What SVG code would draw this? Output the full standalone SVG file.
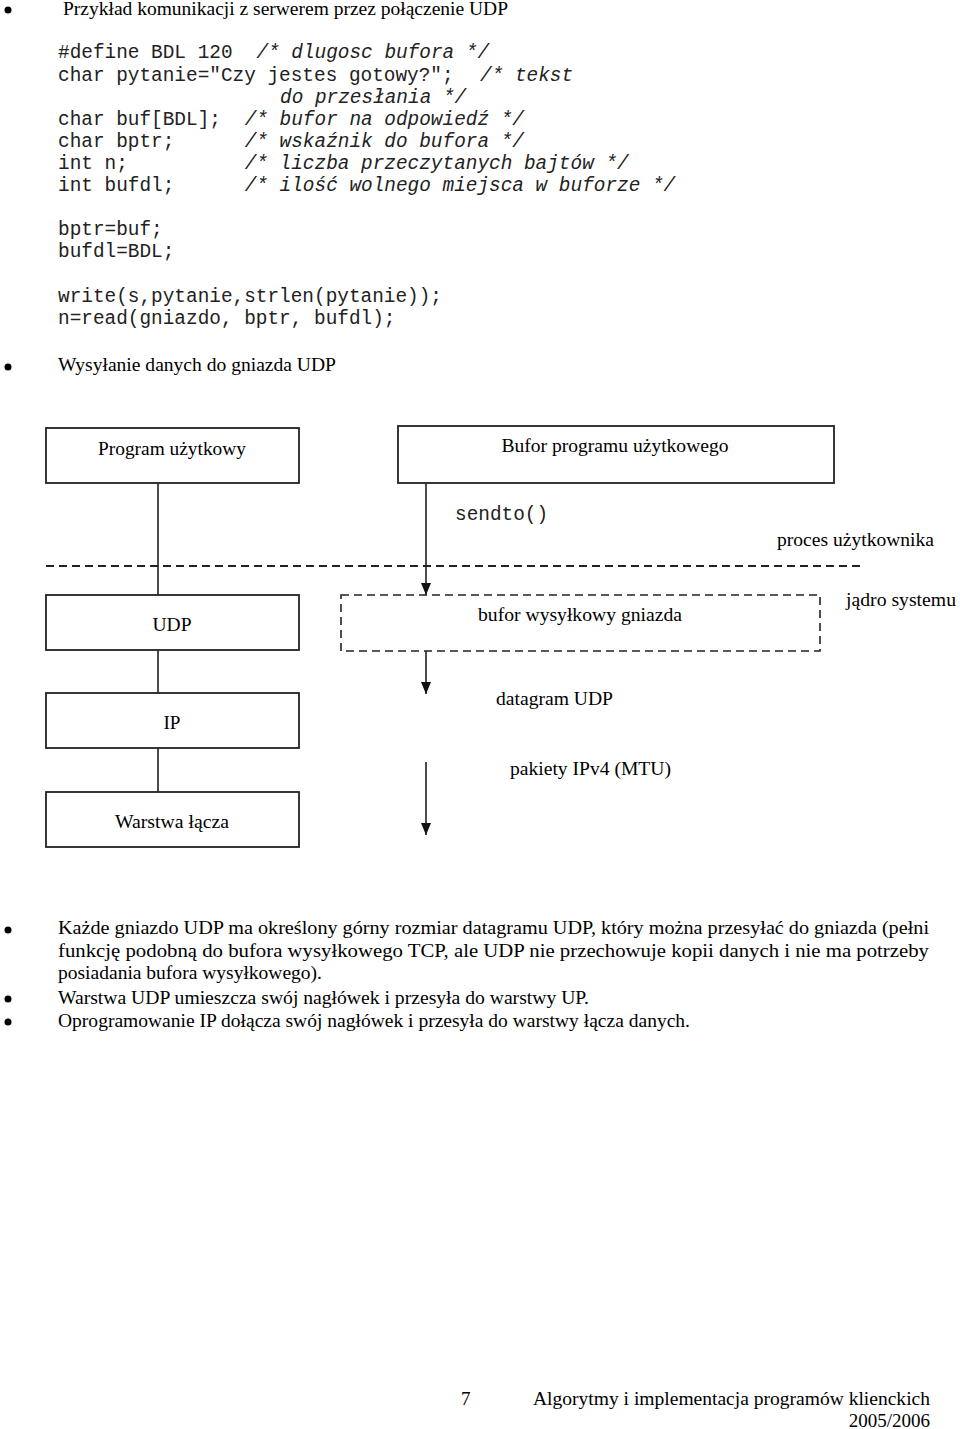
<svg xmlns="http://www.w3.org/2000/svg" width="960" height="1429" viewBox="0 0 960 1429">
<style>
.t{font-family:"Liberation Serif","Times New Roman",serif;font-size:19px;fill:#000}
.m{font-family:"Liberation Mono","Courier New",monospace;font-size:19.4px;fill:#222}
.i{font-style:italic}
.box{fill:#fff;stroke:#222;stroke-width:1.8}
.dbox{fill:none;stroke:#222;stroke-width:1.6;stroke-dasharray:8 5}
.ln{stroke:#111;stroke-width:1.5;fill:none}
.mid{text-anchor:middle}
</style>
<defs>
<marker id="ah" viewBox="0 0 12 10" refX="12" refY="5" markerWidth="12" markerHeight="10" markerUnits="userSpaceOnUse" orient="auto">
<path d="M0,0 L12,5 L0,10 z" fill="#111"/>
</marker>
</defs>
<rect width="960" height="1429" fill="#fff"/>

<g id="header">
<circle cx="8" cy="10" r="3.5" fill="#000"/>
<text class="t" x="63" y="15" textLength="445" lengthAdjust="spacingAndGlyphs">Przykład komunikacji z serwerem przez połączenie UDP</text>
</g>

<g id="code">
<text class="m" x="58" y="58">#define BDL 120<tspan x="256.4" class="i">/* dlugosc bufora */</tspan></text>
<text class="m" x="58" y="80.5">char pytanie="Czy jestes gotowy?";<tspan x="480" class="i">/* tekst</tspan></text>
<text class="m i" x="280" y="102.5">do przesłania */</text>
<text class="m" x="58" y="124.5">char buf[BDL];<tspan x="244.7" class="i">/* bufor na odpowiedź */</tspan></text>
<text class="m" x="58" y="146.5">char bptr;<tspan x="244.7" class="i">/* wskaźnik do bufora */</tspan></text>
<text class="m" x="58" y="168.5">int n;<tspan x="244.7" class="i">/* liczba przeczytanych bajtów */</tspan></text>
<text class="m" x="58" y="190.5">int bufdl;<tspan x="244.7" class="i">/* ilość wolnego miejsca w buforze */</tspan></text>
<text class="m" x="58" y="235">bptr=buf;</text>
<text class="m" x="58" y="257">bufdl=BDL;</text>
<text class="m" x="58" y="302">write(s,pytanie,strlen(pytanie));</text>
<text class="m" x="58" y="324">n=read(gniazdo, bptr, bufdl);</text>
</g>

<g id="bullet2">
<circle cx="8" cy="367" r="3.5" fill="#000"/>
<text class="t" x="58" y="371" textLength="278" lengthAdjust="spacingAndGlyphs">Wysyłanie danych do gniazda UDP</text>
</g>

<g id="connectors">
<line class="ln" x1="158" y1="483" x2="158" y2="595"/>
<line class="ln" x1="158" y1="650" x2="158" y2="693"/>
<line class="ln" x1="158" y1="748" x2="158" y2="792"/>
<line class="ln" x1="426" y1="483" x2="426" y2="595" marker-end="url(#ah)"/>
<line class="ln" x1="426" y1="651" x2="426" y2="694" marker-end="url(#ah)"/>
<line class="ln" x1="426" y1="762" x2="426" y2="835" marker-end="url(#ah)"/>
<line x1="46" y1="566" x2="862" y2="566" stroke="#222" stroke-width="1.8" stroke-dasharray="8 5"/>
</g>

<g id="node-program">
<rect class="box" x="46" y="428" width="253" height="55"/>
<text class="t mid" x="172" y="455" textLength="148" lengthAdjust="spacingAndGlyphs">Program użytkowy</text>
</g>
<g id="node-bufor-programu">
<rect class="box" x="398" y="426" width="436" height="57"/>
<text class="t mid" x="615" y="452" textLength="227" lengthAdjust="spacingAndGlyphs">Bufor programu użytkowego</text>
</g>
<g id="label-sendto">
<text class="m" x="455" y="520" font-size="18.5" fill="#444">sendto()</text>
</g>
<g id="label-proces">
<text class="t" x="777" y="546" textLength="157" lengthAdjust="spacingAndGlyphs">proces użytkownika</text>
</g>
<g id="node-udp">
<rect class="box" x="46" y="595" width="253" height="55"/>
<text class="t mid" x="172" y="631" textLength="39" lengthAdjust="spacingAndGlyphs">UDP</text>
</g>
<g id="node-bufor-wysylkowy">
<rect class="dbox" x="341" y="595" width="479" height="56"/>
<text class="t mid" x="580" y="621" textLength="204" lengthAdjust="spacingAndGlyphs">bufor wysyłkowy gniazda</text>
</g>
<g id="label-jadro">
<text class="t" x="846" y="606" textLength="110" lengthAdjust="spacingAndGlyphs">jądro systemu</text>
</g>
<g id="node-ip">
<rect class="box" x="46" y="693" width="253" height="55"/>
<text class="t mid" x="172" y="729" textLength="17" lengthAdjust="spacingAndGlyphs">IP</text>
</g>
<g id="label-datagram">
<text class="t" x="496" y="705" textLength="117" lengthAdjust="spacingAndGlyphs">datagram UDP</text>
</g>
<g id="label-pakiety">
<text class="t" x="510" y="775" textLength="161" lengthAdjust="spacingAndGlyphs">pakiety IPv4 (MTU)</text>
</g>
<g id="node-warstwa">
<rect class="box" x="46" y="792" width="253" height="55"/>
<text class="t mid" x="172" y="828" textLength="114" lengthAdjust="spacingAndGlyphs">Warstwa łącza</text>
</g>

<g id="notes">
<circle cx="8" cy="930" r="3.5" fill="#000"/>
<text class="t" x="58" y="934" textLength="871" lengthAdjust="spacingAndGlyphs">Każde gniazdo UDP ma określony górny rozmiar datagramu UDP, który można przesyłać do gniazda (pełni</text>
<text class="t" x="58" y="957" textLength="871" lengthAdjust="spacingAndGlyphs">funkcję podobną do bufora wysyłkowego TCP, ale UDP nie przechowuje kopii danych i nie ma potrzeby</text>
<text class="t" x="58" y="979" textLength="264" lengthAdjust="spacingAndGlyphs">posiadania bufora wysyłkowego).</text>
<circle cx="8" cy="999" r="3.5" fill="#000"/>
<text class="t" x="58" y="1004" textLength="531" lengthAdjust="spacingAndGlyphs">Warstwa UDP umieszcza swój nagłówek i przesyła do warstwy UP.</text>
<circle cx="8" cy="1022" r="3.5" fill="#000"/>
<text class="t" x="58" y="1027" textLength="632" lengthAdjust="spacingAndGlyphs">Oprogramowanie IP dołącza swój nagłówek i przesyła do warstwy łącza danych.</text>
</g>

<g id="footer">
<text class="t" x="461" y="1405">7</text>
<text class="t" x="533" y="1405" textLength="397" lengthAdjust="spacingAndGlyphs">Algorytmy i implementacja programów klienckich</text>
<text class="t" x="930" y="1427" text-anchor="end">2005/2006</text>
</g>
</svg>
